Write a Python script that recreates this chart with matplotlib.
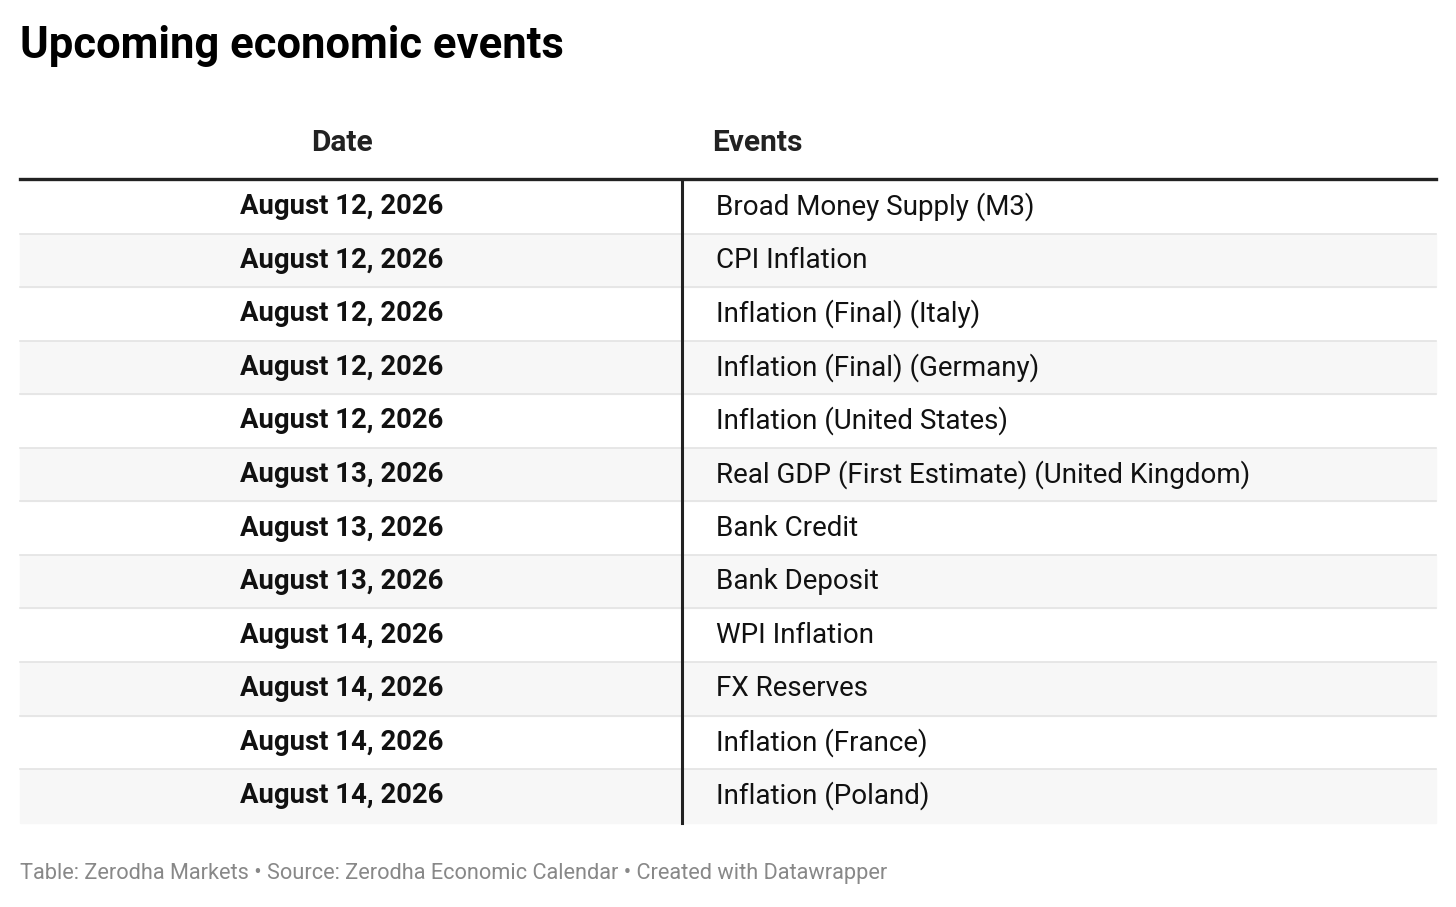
import matplotlib.pyplot as plt
from matplotlib.patches import Rectangle

dates = ["August 12, 2026"] * 5 + ["August 13, 2026"] * 3 + ["August 14, 2026"] * 4
events = [
    "Broad Money Supply (M3)",
    "CPI Inflation",
    "Inflation (Final) (Italy)",
    "Inflation (Final) (Germany)",
    "Inflation (United States)",
    "Real GDP (First Estimate) (United Kingdom)",
    "Bank Credit",
    "Bank Deposit",
    "WPI Inflation",
    "FX Reserves",
    "Inflation (France)",
    "Inflation (Poland)",
]
title = "Upcoming economic events"
footer = "Table: Zerodha Markets • Source: Zerodha Economic Calendar • Created with Datawrapper"

plt.rcParams['font.family'] = ['Roboto', 'DejaVu Sans']
W, H = 1456, 907
fig = plt.figure(figsize=(W / 100, H / 100), dpi=100)
ax = fig.add_axes([0, 0, 1, 1])
ax.set_xlim(0, W)
ax.set_ylim(H, 0)
ax.axis("off")

left, right, top, rh = 20, 1436, 180, 53.55
divider = 682

ax.text(20, 46, title, fontsize=31.4, fontweight="bold", va="center", ha="left", color="#000")
ax.text(342, 143, "Date", fontsize=21.5, fontweight="bold", va="center", ha="center", color="#222")
ax.text(712, 143, "Events", fontsize=21.5, fontweight="bold", va="center", ha="left", color="#222")

for i, (d, e) in enumerate(zip(dates, events)):
    y0 = top + i * rh
    if i % 2 == 1:
        ax.add_patch(Rectangle((left, y0), right - left, rh, color="#f7f7f7", zorder=0))
    if i > 0:
        ax.plot([left, right], [y0, y0], color="#e3e3e3", lw=1.2, zorder=1)
    yc = y0 + rh / 2
    ax.text(342, yc, d, fontsize=19.8, fontweight="bold", va="center", ha="center", color="#111")
    ax.text(716, yc, e, fontsize=20, va="center", ha="left", color="#111")

ax.plot([left, right], [top - 1, top - 1], color="#222", lw=2.4, zorder=3)
ax.plot([divider, divider], [top, top + len(events) * rh], color="#222", lw=2.2, zorder=3)

ax.text(20, 874, footer, fontsize=15.7, va="center", ha="left", color="#888888")

fig.savefig("out.png", dpi=100)
